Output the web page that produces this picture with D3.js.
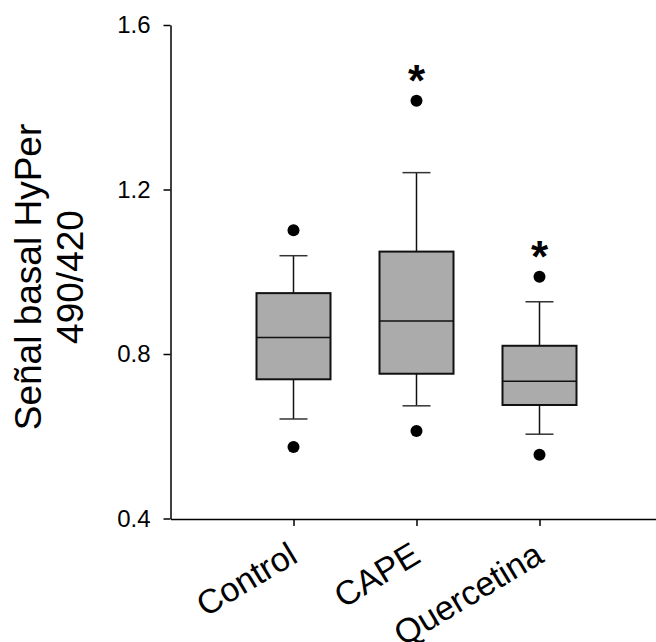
<!DOCTYPE html>
<html>
<head>
<meta charset="utf-8">
<script src="https://cdn.jsdelivr.net/npm/d3@7"></script>
<style>
  body { margin: 0; background: #fff; }
  svg { display: block; font-family: Arial, "Liberation Sans", sans-serif; }
</style>
</head>
<body>
<svg id="chart" width="656" height="642"></svg>
<script>
// box plot values
const categories = ["Control", "CAPE", "Quercetina"];
const whiskerLow = [0.642, 0.674, 0.605];
const q1 = [0.7385, 0.752, 0.676];
const median = [0.840, 0.880, 0.734];
const q3 = [0.948, 1.049, 0.820];
const whiskerHigh = [1.039, 1.241, 0.927];
const outlierLow = [0.574, 0.613, 0.555];
const outlierHigh = [1.101, 1.416, 0.988];
const significance = ["", "*", "*"];
const yTicks = [0.4, 0.8, 1.2, 1.6];

const svg = d3.select("#chart");

let xscale = d3.scalePoint()
    .domain(categories)
    .range([170.5, 662.5])
    .padding(1);

let yscale = d3.scaleLinear()
    .domain([0.4, 1.6])
    .range([518.5, 25]);

let boxWidth = 74;
let capWidth = 28;

let data = categories.map((c, i) => ({
    name: c,
    lo: whiskerLow[i], q1: q1[i], med: median[i], q3: q3[i], hi: whiskerHigh[i],
    outs: [outlierLow[i], outlierHigh[i]],
    sig: significance[i]
}));

let boxes = svg.append("g").selectAll("g")
    .data(data)
    .join("g")
    .attr("transform", d => `translate(${xscale(d.name)},0)`);

// whiskers
boxes.append("line")
    .attr("x1", 0).attr("x2", 0)
    .attr("y1", d => yscale(d.hi)).attr("y2", d => yscale(d.q3))
    .attr("stroke", "#111").attr("stroke-width", 1.5);
boxes.append("line")
    .attr("x1", 0).attr("x2", 0)
    .attr("y1", d => yscale(d.q1)).attr("y2", d => yscale(d.lo))
    .attr("stroke", "#111").attr("stroke-width", 1.5);
boxes.append("line")
    .attr("x1", -capWidth / 2).attr("x2", capWidth / 2)
    .attr("y1", d => yscale(d.hi)).attr("y2", d => yscale(d.hi))
    .attr("stroke", "#333").attr("stroke-width", 1.5);
boxes.append("line")
    .attr("x1", -capWidth / 2).attr("x2", capWidth / 2)
    .attr("y1", d => yscale(d.lo)).attr("y2", d => yscale(d.lo))
    .attr("stroke", "#333").attr("stroke-width", 1.5);

boxes.append("rect")
    .attr("x", -boxWidth / 2)
    .attr("width", boxWidth)
    .attr("y", d => yscale(d.q3))
    .attr("height", d => yscale(d.q1) - yscale(d.q3))
    .attr("fill", "#ababab")
    .attr("stroke", "#111")
    .attr("stroke-width", 2);

boxes.append("line")
    .attr("x1", -boxWidth / 2).attr("x2", boxWidth / 2)
    .attr("y1", d => yscale(d.med)).attr("y2", d => yscale(d.med))
    .attr("stroke", "#111").attr("stroke-width", 1.5);

boxes.selectAll("circle")
    .data(d => d.outs)
    .join("circle")
    .attr("cx", 0)
    .attr("cy", v => yscale(v))
    .attr("r", 6)
    .attr("fill", "#000");

boxes.append("text")
    .attr("x", 0)
    .attr("y", d => yscale(d3.max(d.outs)) - 27 + 22)
    .attr("text-anchor", "middle")
    .attr("font-size", 44)
    .attr("font-weight", "bold")
    .text(d => d.sig);

// axes
let yaxis = d3.axisLeft(yscale)
    .tickValues(yTicks)
    .tickFormat(d3.format(".1f"))
    .tickSize(7)
    .tickPadding(13)
    .tickSizeOuter(0);

let xaxis = d3.axisBottom(xscale)
    .tickSize(7)
    .tickSizeOuter(0)
    .tickFormat("");

let gy = svg.append("g")
    .attr("transform", "translate(170.5,0)")
    .call(yaxis);
gy.select(".domain").attr("stroke-width", 1.5);
gy.selectAll(".tick line").attr("stroke-width", 1.5);
gy.selectAll(".tick text")
    .attr("font-size", 24)
    .attr("font-family", "Arial, 'Liberation Sans', sans-serif")
    .attr("fill", "#000");

let gx = svg.append("g")
    .attr("transform", "translate(0,519)")
    .call(xaxis);
gx.select(".domain").attr("stroke-width", 1.5);
gx.selectAll(".tick line").attr("stroke-width", 1.5);

// rotated category labels
svg.append("g").selectAll("text")
    .data(categories)
    .join("text")
    .attr("transform", d => `translate(${xscale(d) + 6},561) rotate(-31)`)
    .attr("text-anchor", "end")
    .attr("font-size", 34)
    .text(d => d);

// y title
let title = svg.append("text")
    .attr("transform", "translate(0,277) rotate(-90)")
    .attr("text-anchor", "middle")
    .attr("font-size", 37);
title.append("tspan").attr("x", 0).attr("y", 41).text("Señal basal HyPer");
title.append("tspan").attr("x", 0).attr("y", 83).text("490/420");
</script>
</body>
</html>
